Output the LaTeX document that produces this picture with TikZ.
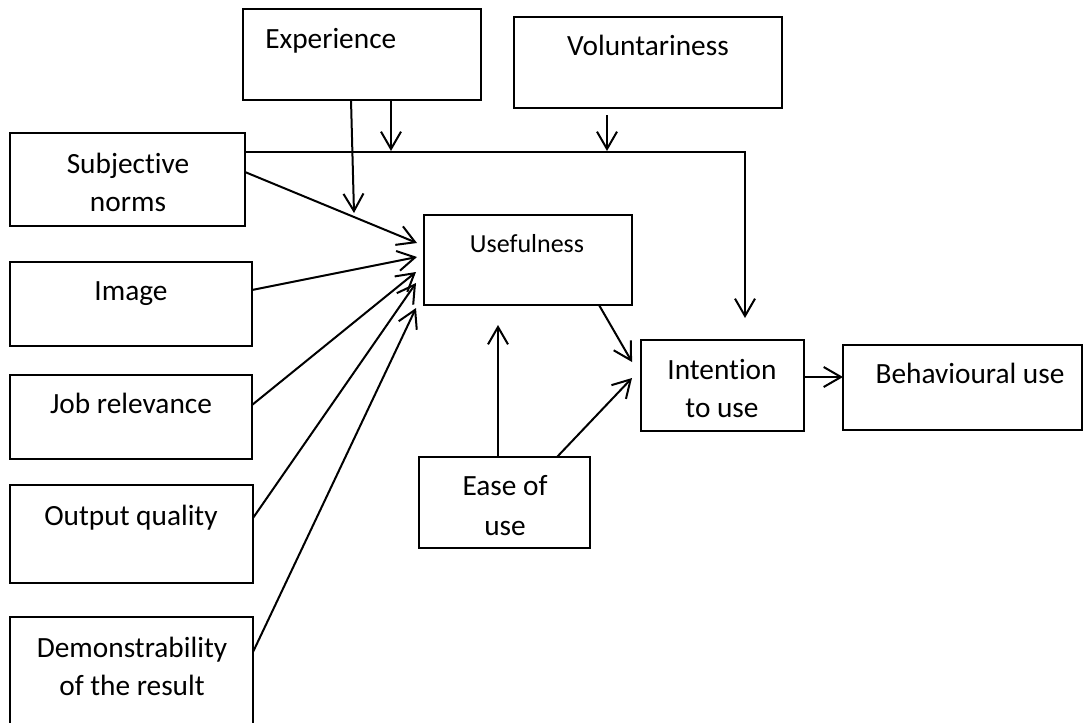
\documentclass[tikz,border=0pt]{standalone}
\usepackage{fontspec}
\setmainfont{Carlito}[Ligatures={NoCommon}]
\usetikzlibrary{arrows.meta,fit}
\begin{document}
\begin{tikzpicture}[x=0.75pt,y=-0.75pt,
  box/.style={draw,line width=1.8pt,inner sep=0pt,outer sep=0pt},
  txt/.style={anchor=base,inner sep=0pt,font=\fontsize{22}{28.5}\selectfont},
  smalltxt/.style={anchor=base,inner sep=0pt,font=\fontsize{19.5}{26}\selectfont},
  conn/.style={line width=1.5pt},
  arr/.style={conn,-{Straight Barb[length=13pt,width=15pt]}}]
\fill[white] (0,0) rectangle (1088,722);
\useasboundingbox (0,0) rectangle (1088,722);

% boxes
\node[box,fit={(243,9)(481,100)}] (exp) {};
\node[box,fit={(514,17)(782,108)}] (vol) {};
\node[box,fit={(10,133)(245,226)}] (sn) {};
\node[box,fit={(10,262)(252,346)}] (img) {};
\node[box,fit={(10,375)(252,459)}] (job) {};
\node[box,fit={(10,485)(253,583)}] (out) {};
\node[box,fit={(10,617)(253,740)}] (dem) {};
\node[box,fit={(424,215)(632,305)}] (use) {};
\node[box,fit={(641,340)(804,431)}] (int) {};
\node[box,fit={(843,345)(1082,430)}] (beh) {};
\node[box,fit={(419,457)(590,548)}] (ease) {};

% texts
\node[txt,anchor=base west] (texp) at (265,48) {Experience};
\node[txt] (tvol) at (648,55) {Voluntariness};
\node[txt] (tsn1) at (128,173) {Subjective};
\node[txt] (tsn2) at (128,211) {norms};
\node[txt] (timg) at (131,300) {Image};
\node[txt] (tjob) at (131,413) {Job relevance};
\node[txt] (tout) at (131,525) {Output quality};
\node[txt] (tdem1) at (132,657) {Demonstrability};
\node[txt] (tdem2) at (132,695) {of the result};
\node[smalltxt] (tuse) at (527,252) {Usefulness};
\node[txt] (tint1) at (722,379) {Intention};
\node[txt] (tint2) at (722,417) {to use};
\node[txt] (tbeh) at (970,383) {Behavioural use};
\node[txt] (tease1) at (505,495) {Ease of};
\node[txt] (tease2) at (505,535) {use};

% arrow tip points (free ends)
\coordinate (p1) at (417,243);
\coordinate (p2) at (417,257);
\coordinate (p3) at (416,272);
\coordinate (p4) at (416,283);
\coordinate (p5) at (416,308);
\coordinate (e1) at (354,213);
\coordinate (e2) at (391,151);
\coordinate (v0) at (607,115);
\coordinate (v1) at (607,151);
\coordinate (corner) at (745,152);
\coordinate (i0) at (745,318);
\coordinate (u1) at (632,362);
\coordinate (ea1) at (498,325);
\coordinate (ea2) at (632,378);

% connectors
\draw[arr] (sn.east |- 0,172) -- (p1);
\draw[arr] (img.east |- 0,290) -- (p2);
\draw[arr] (job.east |- 0,405) -- (p3);
\draw[arr] (out.east |- 0,518) -- (p4);
\draw[arr] (dem.east |- 0,652) -- (p5);
\draw[arr] (exp.south -| 351,0) -- (e1);
\draw[arr] (exp.south -| 391,0) -- (e2);
\draw[arr] (v0) -- (v1);
\draw[arr] (sn.east |- 0,152) -- (corner) -- (i0);
\draw[arr] (use.south -| 599,0) -- (u1);
\draw[arr] (ease.north -| 498,0) -- (ea1);
\draw[arr] (ease.north -| 557,0) -- (ea2);
\draw[arr] (int.east |- 0,377) -- (beh.west |- 0,377);
\end{tikzpicture}
\end{document}
